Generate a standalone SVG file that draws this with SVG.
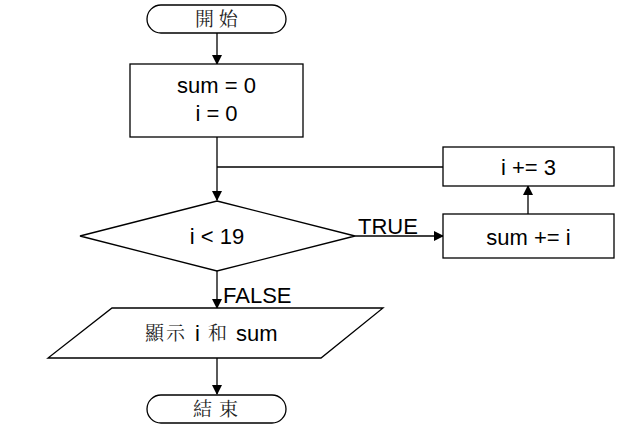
<svg xmlns="http://www.w3.org/2000/svg" width="632" height="433" viewBox="0 0 632 433">
<defs>
<style>
.s{fill:#fff;stroke:#000;stroke-width:1.3}
.c{fill:none;stroke:#000;stroke-width:1.3}
.t{font-family:"Liberation Sans",Arial,sans-serif;font-size:22px;fill:#000}
.k{font-family:"Noto Serif CJK TC","Noto Sans CJK TC",serif;font-size:19px;fill:#222}
</style>
<marker id="a" markerWidth="10" markerHeight="10" refX="9" refY="5" orient="auto" markerUnits="userSpaceOnUse">
<path d="M0,0 L10,5 L0,10 Z" fill="#000"/>
</marker>
</defs>
<rect width="632" height="433" fill="#fff"/>
<g id="connectors">
<line class="c" x1="217" y1="33" x2="217" y2="64" marker-end="url(#a)"/>
<line class="c" x1="217" y1="137" x2="217" y2="200" marker-end="url(#a)"/>
<line class="c" x1="443" y1="167" x2="217" y2="167"/>
<line class="c" x1="355" y1="236" x2="443" y2="236" marker-end="url(#a)"/>
<line class="c" x1="528" y1="214" x2="528" y2="186" marker-end="url(#a)"/>
<line class="c" x1="217" y1="270" x2="217" y2="308" marker-end="url(#a)"/>
<line class="c" x1="217" y1="358" x2="217" y2="394" marker-end="url(#a)"/>
<text class="t" x="358" y="234">TRUE</text>
<text class="t" x="223" y="303">FALSE</text>
</g>
<g id="start">
<rect class="s" x="147" y="5" width="139" height="28" rx="14"/>
<text class="k" x="195" y="26">開</text>
<text class="k" x="219" y="26">始</text>
</g>
<g id="init">
<rect class="s" x="130" y="64" width="173" height="73"/>
<text class="t" x="216.5" y="93" text-anchor="middle">sum = 0</text>
<text class="t" x="216.5" y="121" text-anchor="middle">i = 0</text>
</g>
<g id="cond">
<polygon class="s" points="217,201 355,236 217,271 80,236"/>
<text class="t" x="217" y="244" text-anchor="middle">i &lt; 19</text>
</g>
<g id="inc">
<rect class="s" x="443" y="147" width="171" height="39"/>
<text class="t" x="528.5" y="175" text-anchor="middle">i += 3</text>
</g>
<g id="add">
<rect class="s" x="443" y="214" width="171" height="44"/>
<text class="t" x="528.5" y="245" text-anchor="middle">sum += i</text>
</g>
<g id="output">
<polygon class="s" points="112,308 383,308 321,358 48,358"/>
<text class="k" x="145" y="340">顯</text>
<text class="k" x="166" y="340">示</text>
<text class="t" x="195" y="341">i</text>
<text class="k" x="208" y="340">和</text>
<text class="t" x="236" y="341">sum</text>
</g>
<g id="end">
<rect class="s" x="147" y="395" width="139" height="28" rx="14"/>
<text class="k" x="193" y="416">結</text>
<text class="k" x="219" y="416">束</text>
</g>
</svg>
